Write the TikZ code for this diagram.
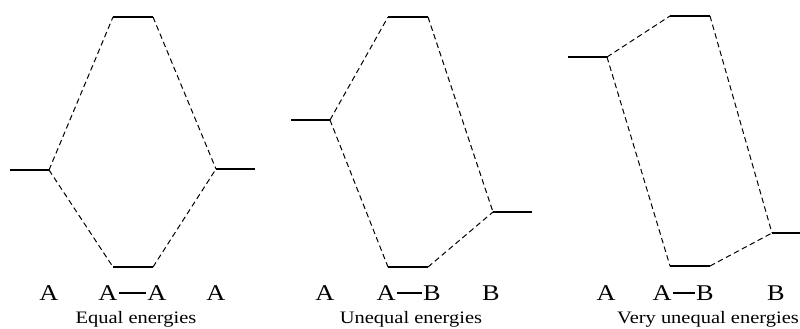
\documentclass[tikz,border=0pt]{standalone}
\usepackage{fontspec}
\setmainfont{Liberation Serif}
\newfontfamily\scanfont[FakeStretch=1.17]{Liberation Serif}
\usetikzlibrary{positioning}

\begin{document}
\begin{tikzpicture}[x=1pt, y=-1pt,
  level/.style={line width=2.2pt},
  link/.style={line width=1pt, dash pattern=on 5.5pt off 3.5pt},
  bond/.style={line width=1.3pt},
  atom/.style={font=\scanfont\fontsize{22.5}{22.5}\selectfont, inner ysep=0pt, inner xsep=1.2pt},
  caption/.style={font=\scanfont\fontsize{17.5}{17.5}\selectfont, anchor=base, inner sep=0pt}]
\useasboundingbox (0,0) rectangle (800,329);

% equal energies
\coordinate (e-a1) at (10,170);  \coordinate (e-a2) at (49,170);
\coordinate (e-t1) at (113,17);  \coordinate (e-t2) at (153,17);
\coordinate (e-d1) at (113,267); \coordinate (e-d2) at (153,267);
\coordinate (e-b1) at (216,169); \coordinate (e-b2) at (255,169);
\draw[level] (e-a1) -- (e-a2);
\draw[level] (e-t1) -- (e-t2);
\draw[level] (e-d1) -- (e-d2);
\draw[level] (e-b1) -- (e-b2);
\draw[link] (e-a2) -- (e-t1);
\draw[link] (e-a2) -- (e-d1);
\draw[link] (e-t2) -- (e-b1);
\draw[link] (e-d2) -- (e-b1);
\node[atom] (e-A) at (49,293) {A};
\node[atom] (e-M1) at (108,293) {A};
\node[atom] (e-M2) at (157,293) {A};
\node[atom] (e-B) at (216,293) {A};
\draw[bond] (e-M1) -- (e-M2);
\node[caption] (e-cap) at (136,323) {Equal energies};

% unequal energies
\coordinate (u-a1) at (291,120); \coordinate (u-a2) at (330,120);
\coordinate (u-t1) at (388,17);  \coordinate (u-t2) at (428,17);
\coordinate (u-d1) at (388,267); \coordinate (u-d2) at (428,267);
\coordinate (u-b1) at (493,212); \coordinate (u-b2) at (532,212);
\draw[level] (u-a1) -- (u-a2);
\draw[level] (u-t1) -- (u-t2);
\draw[level] (u-d1) -- (u-d2);
\draw[level] (u-b1) -- (u-b2);
\draw[link] (u-a2) -- (u-t1);
\draw[link] (u-a2) -- (u-d1);
\draw[link] (u-t2) -- (u-b1);
\draw[link] (u-d2) -- (u-b1);
\node[atom] (u-A) at (325,293) {A};
\node[atom] (u-M1) at (386,293) {A};
\node[atom] (u-M2) at (432,293) {B};
\node[atom] (u-B) at (491,293) {B};
\draw[bond] (u-M1) -- (u-M2);
\node[caption] (u-cap) at (411,323) {Unequal energies};

% very unequal energies
\coordinate (v-a1) at (568,57);  \coordinate (v-a2) at (607,57);
\coordinate (v-t1) at (670,16);  \coordinate (v-t2) at (710,16);
\coordinate (v-d1) at (670,266); \coordinate (v-d2) at (710,266);
\coordinate (v-b1) at (772,233); \coordinate (v-b2) at (800,233);
\draw[level] (v-a1) -- (v-a2);
\draw[level] (v-t1) -- (v-t2);
\draw[level] (v-d1) -- (v-d2);
\draw[level] (v-b1) -- (v-b2);
\draw[link] (v-a2) -- (v-t1);
\draw[link] (v-a2) -- (v-d1);
\draw[link] (v-t2) -- (v-b1);
\draw[link] (v-d2) -- (v-b1);
\node[atom] (v-A) at (606,293) {A};
\node[atom] (v-M1) at (662,293) {A};
\node[atom] (v-M2) at (705,293) {B};
\node[atom] (v-B) at (776,293) {B};
\draw[bond] (v-M1) -- (v-M2);
\node[caption] (v-cap) at (708,323) {Very unequal energies};
\end{tikzpicture}
\end{document}
